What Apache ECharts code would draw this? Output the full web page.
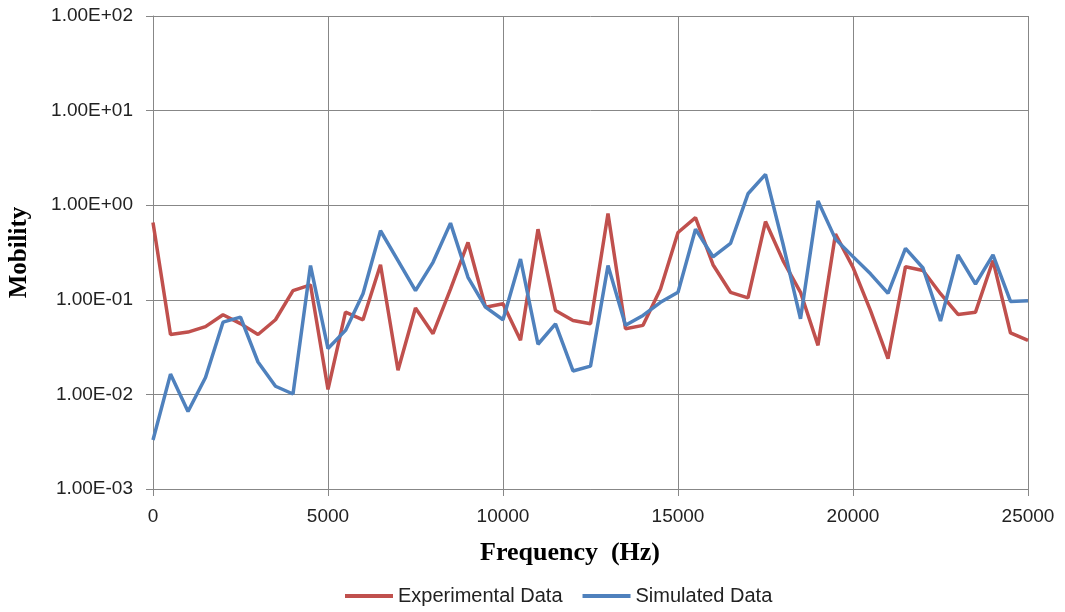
<!DOCTYPE html>
<html>
<head>
<meta charset="utf-8">
<script src="https://cdn.jsdelivr.net/npm/echarts@6/dist/echarts.min.js"></script>
<style>
  html, body { margin: 0; padding: 0; background: #fff; }
  #chart { width: 1065px; height: 612px; }
</style>
</head>
<body>
<div id="chart"></div>
<script>
// frequency points (Hz)
var freq = [0, 500, 1000, 1500, 2000, 2500, 3000, 3500, 4000, 4500,
    5000, 5500, 6000, 6500, 7000, 7500, 8000, 8500, 9000, 9500,
    10000, 10500, 11000, 11500, 12000, 12500, 13000, 13500, 14000, 14500,
    15000, 15500, 16000, 16500, 17000, 17500, 18000, 18500, 19000, 19500,
    20000, 20500, 21000, 21500, 22000, 22500, 23000, 23500, 24000, 24500, 25000];

var experimental = [0.656, 0.043, 0.0456, 0.052, 0.0695, 0.056, 0.043, 0.0615, 0.125, 0.144,
    0.0113, 0.074, 0.0615, 0.235, 0.018, 0.082, 0.0438, 0.13, 0.404, 0.0836,
    0.0907, 0.0373, 0.558, 0.077, 0.0605, 0.0558, 0.816, 0.0495, 0.0537, 0.13,
    0.515, 0.74, 0.235, 0.12, 0.105, 0.672, 0.26, 0.12, 0.033, 0.495,
    0.22, 0.077, 0.0239, 0.224, 0.204, 0.116, 0.07, 0.074, 0.26, 0.0446, 0.0373];

var simulated = [0.0033, 0.0164, 0.0066, 0.0151, 0.058, 0.0656, 0.022, 0.0122, 0.0101, 0.23,
    0.0305, 0.0475, 0.116, 0.537, 0.26, 0.125, 0.249, 0.647, 0.173, 0.0836,
    0.0615, 0.27, 0.0339, 0.0558, 0.0177, 0.0199, 0.23, 0.0537, 0.0684, 0.094,
    0.12, 0.558, 0.285, 0.394, 1.32, 2.12, 0.389, 0.063, 1.11, 0.438,
    0.286, 0.188, 0.117, 0.349, 0.217, 0.0596, 0.298, 0.147, 0.298, 0.096, 0.098];

function pairs(ys) {
    var out = [];
    for (var i = 0; i < freq.length; i++) {
        out.push([freq[i], ys[i]]);
    }
    return out;
}

// 0.01 -> "1.00E-02"
function sci(v) {
    var e = Math.round(Math.log(v) / Math.LN10);
    var m = v / Math.pow(10, e);
    var s = Math.abs(e) < 10 ? '0' + Math.abs(e) : '' + Math.abs(e);
    return m.toFixed(2) + 'E' + (e < 0 ? '-' : '+') + s;
}

var gray = '#878787';
var chart = echarts.init(document.getElementById('chart'));

var option = {
    animation: false,
    grid: { left: 153, right: 37, top: 16, bottom: 123, containLabel: false, outerBoundsMode: 'none' },
    legend: {
        left: 340,
        top: 581,
        itemWidth: 48,
        itemHeight: 4,
        itemGap: 20,
        icon: 'rect',
        textStyle: { fontFamily: 'Liberation Sans', fontSize: 20, color: '#222' },
        data: ['Experimental Data', 'Simulated Data']
    },
    graphic: [{
        type: 'text',
        left: 480,
        top: 540,
        style: {
            text: 'Frequency  (Hz)',
            font: 'bold 26px "Liberation Serif"',
            fill: '#000'
        }
    }],
    xAxis: {
        type: 'value',
        min: 0,
        max: 25000,
        interval: 5000,
        axisLine: { lineStyle: { color: gray, width: 1 } },
        axisTick: { show: true, length: 7, lineStyle: { color: gray } },
        axisLabel: {
            margin: 18,
            fontFamily: 'Liberation Sans',
            fontSize: 19,
            color: '#222',
            formatter: function (v) { return '' + v; }
        },
        splitLine: { show: true, lineStyle: { color: gray, width: 1 } }
    },
    yAxis: {
        type: 'log',
        logBase: 10,
        min: 0.001,
        max: 100,
        name: 'Mobility',
        nameLocation: 'middle',
        nameGap: 121,
        nameTextStyle: { fontFamily: 'Liberation Serif', fontWeight: 'bold', fontSize: 25, color: '#000' },
        axisLine: { show: true, lineStyle: { color: gray, width: 1 } },
        axisTick: { show: true, length: 7, lineStyle: { color: gray } },
        minorTick: { show: false },
        axisLabel: {
            margin: 20,
            fontFamily: 'Liberation Sans',
            fontSize: 19,
            color: '#222',
            formatter: function (v) { return sci(v); }
        },
        splitLine: { show: true, lineStyle: { color: gray, width: 1 } }
    },
    series: [{
        name: 'Experimental Data',
        type: 'line',
        data: pairs(experimental),
        showSymbol: false,
        symbol: 'none',
        color: '#C0504D',
        lineStyle: { width: 3.5, color: '#C0504D' }
    }, {
        name: 'Simulated Data',
        type: 'line',
        data: pairs(simulated),
        showSymbol: false,
        symbol: 'none',
        color: '#4F81BD',
        lineStyle: { width: 3.5, color: '#4F81BD' }
    }]
};

chart.setOption(option);
</script>
</body>
</html>
